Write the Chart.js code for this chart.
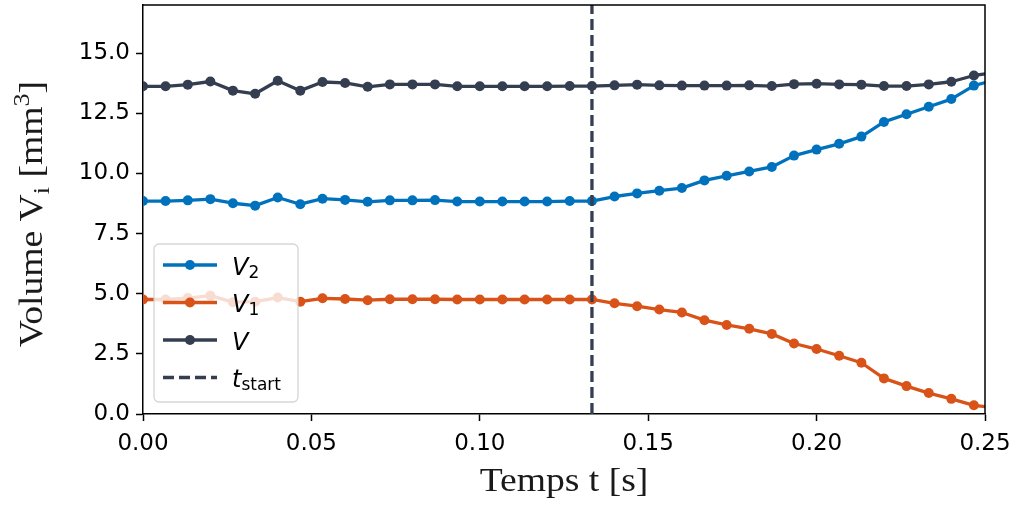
<!DOCTYPE html>
<html>
<head>
<meta charset="utf-8">
<script src="https://cdn.jsdelivr.net/npm/chart.js@4.4.0/dist/chart.umd.min.js"></script>
<style>
  html, body { margin: 0; padding: 0; background: #fff; }
  #wrap { width: 1016px; height: 506px; }
</style>
</head>
<body>
<div id="wrap"><canvas id="volumeChart" width="1016" height="506"></canvas></div>
<script>
// sample times [s], one frame every 1/150 s
const times = [0.0000, 0.0067, 0.0133, 0.0200, 0.0267, 0.0333, 0.0400, 0.0467, 0.0533, 0.0600,
               0.0667, 0.0733, 0.0800, 0.0867, 0.0933, 0.1000, 0.1067, 0.1133, 0.1200, 0.1267,
               0.1333, 0.1400, 0.1467, 0.1533, 0.1600, 0.1667, 0.1733, 0.1800, 0.1867, 0.1933,
               0.2000, 0.2067, 0.2133, 0.2200, 0.2267, 0.2333, 0.2400, 0.2467, 0.2533];

// volumes [mm^3]
const volV2 = [8.85, 8.85, 8.88, 8.93, 8.76, 8.66, 9.00, 8.72, 8.95, 8.90,
               8.82, 8.88, 8.88, 8.89, 8.83, 8.83, 8.83, 8.83, 8.83, 8.85,
               8.85, 9.04, 9.17, 9.28, 9.39, 9.71, 9.90, 10.08, 10.27, 10.74,
               10.99, 11.23, 11.53, 12.14, 12.46, 12.77, 13.09, 13.65, 13.90];
const volV1 = [4.76, 4.76, 4.82, 4.92, 4.65, 4.67, 4.84, 4.67, 4.81, 4.78,
               4.73, 4.77, 4.77, 4.77, 4.76, 4.76, 4.76, 4.76, 4.76, 4.76,
               4.76, 4.60, 4.48, 4.34, 4.22, 3.90, 3.70, 3.54, 3.33, 2.93,
               2.70, 2.42, 2.13, 1.48, 1.16, 0.87, 0.63, 0.36, 0.26];
const volTotal = [13.62, 13.62, 13.69, 13.82, 13.44, 13.31, 13.85, 13.44, 13.80, 13.76,
                  13.60, 13.70, 13.70, 13.70, 13.62, 13.62, 13.62, 13.62, 13.62, 13.63,
                  13.63, 13.66, 13.69, 13.66, 13.65, 13.65, 13.65, 13.66, 13.63, 13.71,
                  13.73, 13.70, 13.69, 13.63, 13.63, 13.70, 13.81, 14.07, 14.20];
const tStart = 0.1333;

// axes
const xRange = [0, 0.25];
const yRange = [0, 17];
const xTicks = [0, 0.05, 0.10, 0.15, 0.20, 0.25];
const xTickLabels = ['0.00', '0.05', '0.10', '0.15', '0.20', '0.25'];
const yTicks = [0, 2.5, 5, 7.5, 10, 12.5, 15];
const yTickLabels = ['0.0', '2.5', '5.0', '7.5', '10.0', '12.5', '15.0'];

const colV2 = '#0072bd';
const colV1 = '#d95319';
const colV = '#343e50';

const toPoints = ys => times.map((t, i) => ({ x: t, y: ys[i] }));

// draws a run of text pieces (normal / sub / sup) one after the other
function drawRich(ctx, x, y, parts, align) {
    let total = 0;
    parts.forEach(p => { ctx.font = p.font; total += ctx.measureText(p.text).width; });
    let cx = align === 'center' ? x - total / 2 : x;
    parts.forEach(p => {
        ctx.font = p.font;
        ctx.fillText(p.text, cx, y + (p.dy || 0));
        cx += ctx.measureText(p.text).width;
    });
}

const serif = size => size + "px 'Liberation Serif'";
const sans = size => size + "px 'DejaVu Sans'";
const sansIt = size => "italic " + size + "px 'DejaVu Sans'";

const extras = {
    id: 'extras',
    afterDraw(chart) {
        const ctx = chart.ctx;
        const a = chart.chartArea;
        ctx.save();

        // top and right spines
        ctx.strokeStyle = '#000';
        ctx.lineWidth = 1.5;
        ctx.beginPath();
        ctx.moveTo(a.left, a.top);
        ctx.lineTo(a.right, a.top);
        ctx.lineTo(a.right, a.bottom);
        ctx.stroke();

        // axis titles
        ctx.fillStyle = '#1a1a1a';
        ctx.textBaseline = 'alphabetic';
        ctx.save();
        ctx.translate((a.left + a.right) / 2, 491);
        ctx.scale(1.14, 1);
        drawRich(ctx, 0, 0, [{ text: 'Temps t [s]', font: serif(33) }], 'center');
        ctx.restore();

        ctx.save();
        ctx.translate(42, 214);
        ctx.rotate(-Math.PI / 2);
        ctx.scale(1.14, 1);
        drawRich(ctx, 0, 0, [
            { text: 'Volume V', font: serif(33) },
            { text: 'i', font: serif(23), dy: 7 },
            { text: ' [mm', font: serif(33) },
            { text: '3', font: serif(23), dy: -13 },
            { text: ']', font: serif(33) }
        ], 'center');
        ctx.restore();

        // legend box
        const bx = 154, by = 244, bw = 144, bh = 158;
        ctx.beginPath();
        ctx.roundRect(bx, by, bw, bh, 5);
        ctx.fillStyle = 'rgba(255,255,255,0.8)';
        ctx.fill();
        ctx.strokeStyle = 'rgba(204,204,204,0.8)';
        ctx.lineWidth = 1.3;
        ctx.stroke();

        const rows = [
            { col: colV2, dash: false, parts: [{ text: 'V', font: sansIt(24) }, { text: '2', font: sans(17), dy: 3 }] },
            { col: colV1, dash: false, parts: [{ text: 'V', font: sansIt(24) }, { text: '1', font: sans(17), dy: 3 }] },
            { col: colV, dash: false, parts: [{ text: 'V', font: sansIt(24) }] },
            { col: colV, dash: true, parts: [{ text: 't', font: sansIt(24) }, { text: 'start', font: sans(17), dy: 3 }] }
        ];
        rows.forEach((r, i) => {
            const ry = 265 + i * 37.5;
            ctx.strokeStyle = r.col;
            ctx.lineWidth = 3.3;
            ctx.setLineDash(r.dash ? [11, 5] : []);
            ctx.beginPath();
            ctx.moveTo(163, ry);
            ctx.lineTo(217, ry);
            ctx.stroke();
            ctx.setLineDash([]);
            if (!r.dash) {
                ctx.fillStyle = r.col;
                ctx.beginPath();
                ctx.arc(190, ry, 5, 0, Math.PI * 2);
                ctx.fill();
            }
            ctx.fillStyle = '#000';
            drawRich(ctx, 232, ry + 9.5, r.parts, 'left');
        });

        ctx.restore();
    }
};

const lineStyle = col => ({
    borderColor: col,
    backgroundColor: col,
    borderWidth: 3.3,
    borderJoinStyle: 'round',
    pointRadius: 5,
    pointBorderWidth: 0,
    pointBackgroundColor: col,
    clip: 0
});

new Chart(document.getElementById('volumeChart'), {
    type: 'line',
    data: {
        datasets: [
            Object.assign({ label: 'V2', data: toPoints(volV2), order: 3 }, lineStyle(colV2)),
            Object.assign({ label: 'V1', data: toPoints(volV1), order: 2 }, lineStyle(colV1)),
            Object.assign({ label: 'V', data: toPoints(volTotal), order: 1 }, lineStyle(colV)),
            {
                label: 'tstart',
                data: [{ x: tStart, y: yRange[0] }, { x: tStart, y: yRange[1] }],
                borderColor: colV,
                borderWidth: 3.3,
                borderDash: [11, 5],
                pointRadius: 0,
                order: 0,
                clip: 0
            }
        ]
    },
    options: {
        responsive: false,
        animation: false,
        devicePixelRatio: 1,
        layout: { padding: { top: 4, right: 31, left: 0, bottom: 0 } },
        plugins: { legend: { display: false }, tooltip: { enabled: false } },
        elements: { line: { tension: 0 } },
        scales: {
            x: {
                type: 'linear',
                min: xRange[0],
                max: xRange[1],
                afterBuildTicks: s => { s.ticks = xTicks.map(v => ({ value: v })); },
                afterFit: s => { s.height = 92; s.paddingLeft = 0; s.paddingRight = 0; },
                ticks: {
                    callback: (v, i) => xTickLabels[i],
                    autoSkip: false,
                    maxRotation: 0,
                    padding: 9,
                    color: '#000',
                    font: { family: 'DejaVu Sans', size: 23 }
                },
                grid: { drawOnChartArea: false, drawTicks: true, tickLength: 7, tickWidth: 1.5, tickColor: '#000' },
                border: { display: true, color: '#000', width: 1.5 }
            },
            y: {
                type: 'linear',
                min: yRange[0],
                max: yRange[1],
                afterBuildTicks: s => { s.ticks = yTicks.map(v => ({ value: v })); },
                afterFit: s => { s.width = 143; s.paddingTop = 0; s.paddingBottom = 0; },
                ticks: {
                    callback: (v, i) => yTickLabels[i],
                    autoSkip: false,
                    padding: 6,
                    color: '#000',
                    font: { family: 'DejaVu Sans', size: 23 }
                },
                grid: { drawOnChartArea: false, drawTicks: true, tickLength: 7, tickWidth: 1.5, tickColor: '#000' },
                border: { display: true, color: '#000', width: 1.5 }
            }
        }
    },
    plugins: [extras]
});
</script>
</body>
</html>
